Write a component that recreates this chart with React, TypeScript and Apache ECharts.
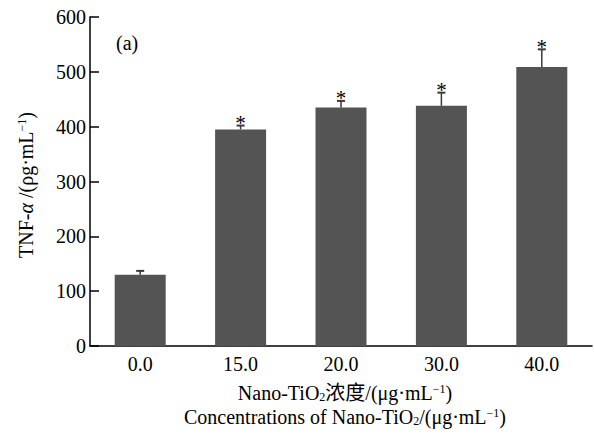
import React, { useEffect, useRef } from "react";
import * as echarts from "echarts";

const categories = ["0.0", "15.0", "20.0", "30.0", "40.0"];
const tnfValues = [130, 395, 435, 438, 509];
const tnfErrors = [7, 7, 12, 24, 32];
const significance = ["", "*", "*", "*", "*"];

const SERIF = "'Liberation Serif', 'Times New Roman', 'Noto Sans CJK SC', serif";

export default function App() {
  const ref = useRef<HTMLDivElement>(null);

  useEffect(() => {
    if (!ref.current) return;
    document.body.style.margin = "0";
    const chart = echarts.init(ref.current, null, { renderer: "svg" });
    chart.setOption({
      animation: false,
      backgroundColor: "#ffffff",
      grid: { left: 90, right: 2, top: 17, bottom: 88 },
      xAxis: {
        type: "category",
        data: categories,
        axisLine: { show: true, lineStyle: { color: "#000", width: 1.5 } },
        axisTick: { show: false },
        axisLabel: { color: "#000", fontFamily: SERIF, fontSize: 20, margin: 8 },
      },
      yAxis: {
        type: "value",
        min: 0,
        max: 600,
        interval: 100,
        axisLine: { show: true, lineStyle: { color: "#000", width: 1.5 } },
        axisTick: { show: true, inside: true, length: 9, lineStyle: { color: "#000", width: 1.5 } },
        splitLine: { show: false },
        axisLabel: { color: "#000", fontFamily: SERIF, fontSize: 20, margin: 4 },
      },
      series: [
        {
          type: "bar",
          data: tnfValues,
          barWidth: 51,
          itemStyle: { color: "#545454" },
        },
        {
          type: "custom",
          data: tnfValues.map((v, i) => [i, v, tnfErrors[i]]),
          z: 5,
          renderItem: (params: any, api: any) => {
            const xi = api.value(0);
            const v = api.value(1);
            const e = api.value(2);
            const base = api.coord([xi, v]);
            const top = api.coord([xi, v + e]);
            const cap = 4;
            const lineStyle = { stroke: "#3a3a3a", lineWidth: 1.5 };
            const children: any[] = [
              { type: "line", shape: { x1: base[0], y1: base[1], x2: top[0], y2: top[1] }, style: lineStyle },
              { type: "line", shape: { x1: top[0] - cap, y1: top[1], x2: top[0] + cap, y2: top[1] }, style: { stroke: "#3a3a3a", lineWidth: 2 } },
            ];
            const mark = significance[params.dataIndex];
            if (mark) {
              children.push({
                type: "text",
                x: top[0],
                y: top[1] + 8,
                style: {
                  text: mark,
                  fontSize: 21,
                  fontFamily: SERIF,
                  fill: "#000",
                  align: "center",
                  verticalAlign: "bottom",
                },
              });
            }
            return { type: "group", children };
          },
        },
      ],
      graphic: [
        {
          type: "text",
          x: 116,
          y: 43,
          style: {
            text: "(a)",
            fontSize: 20,
            fontFamily: SERIF,
            fill: "#000",
            align: "left",
            verticalAlign: "middle",
          },
        },
        {
          type: "text",
          x: 26,
          y: 185,
          rotation: Math.PI / 2,
          style: {
            text: "TNF-{i|α} /(ρg·mL{sup|−1})",
            fontSize: 20,
            fontFamily: SERIF,
            fill: "#000",
            align: "center",
            verticalAlign: "middle",
            rich: {
              i: { fontSize: 20, fontFamily: SERIF, fontStyle: "italic", fill: "#000" },
              sup: { fontSize: 12, fontFamily: SERIF, fill: "#000", verticalAlign: "top" },
            },
          },
        },
        {
          type: "text",
          x: 345,
          y: 393,
          style: {
            text: "Nano-TiO{sub|2}浓度/(μg·mL{sup|−1})",
            fontSize: 20,
            fontFamily: SERIF,
            fill: "#000",
            align: "center",
            verticalAlign: "middle",
            rich: {
              sub: { fontSize: 12, fontFamily: SERIF, fill: "#000", verticalAlign: "bottom" },
              sup: { fontSize: 12, fontFamily: SERIF, fill: "#000", verticalAlign: "top" },
            },
          },
        },
        {
          type: "text",
          x: 345,
          y: 417,
          style: {
            text: "Concentrations of Nano-TiO{sub|2}/(μg·mL{sup|−1})",
            fontSize: 20,
            fontFamily: SERIF,
            fill: "#000",
            align: "center",
            verticalAlign: "middle",
            rich: {
              sub: { fontSize: 12, fontFamily: SERIF, fill: "#000", verticalAlign: "bottom" },
              sup: { fontSize: 12, fontFamily: SERIF, fill: "#000", verticalAlign: "top" },
            },
          },
        },
      ],
    });
    return () => chart.dispose();
  }, []);

  return <div ref={ref} style={{ width: 594, height: 434 }} />;
}
